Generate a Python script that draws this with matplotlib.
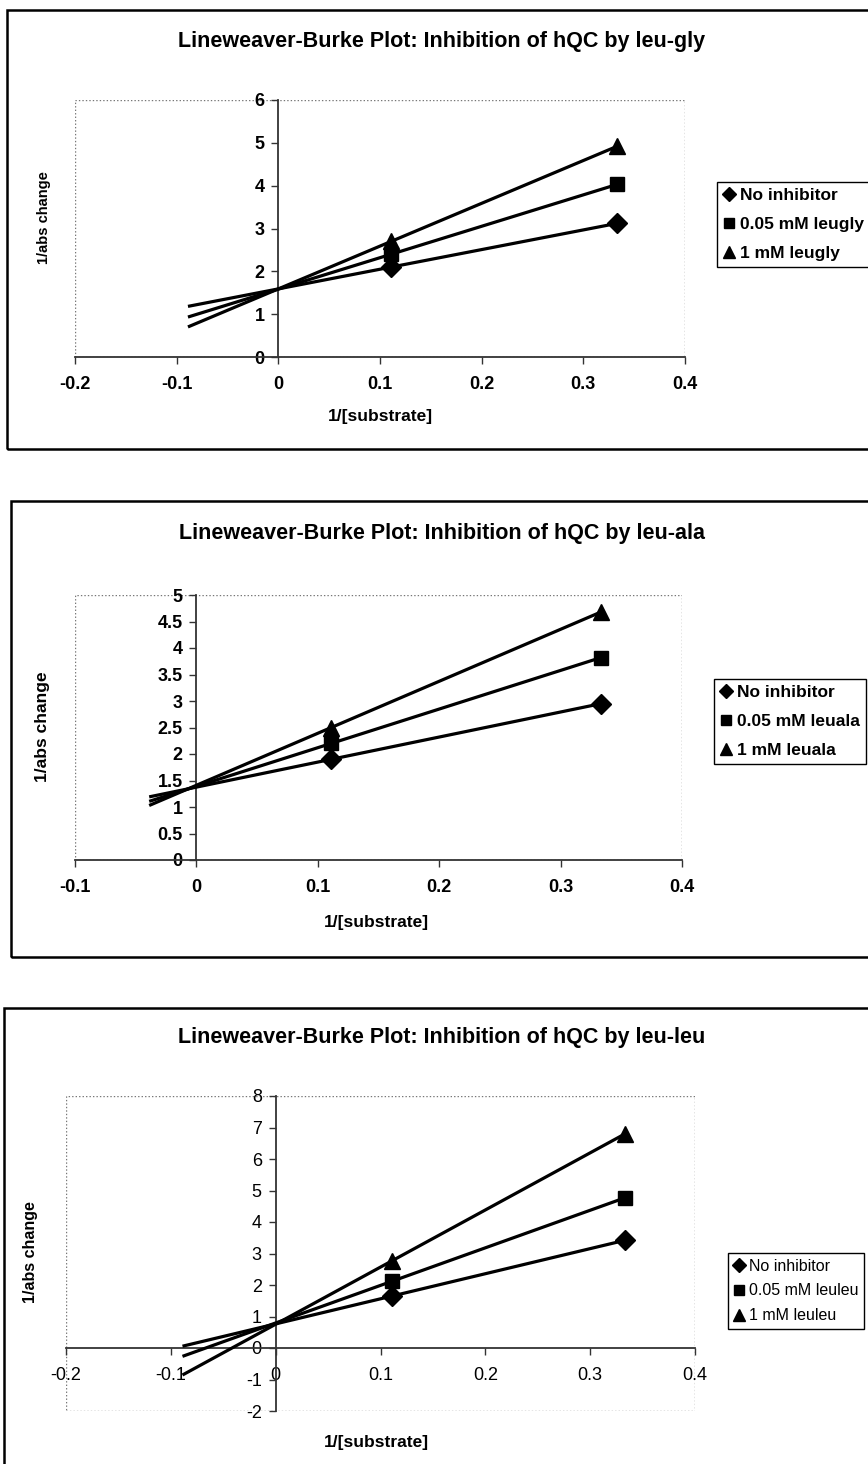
import numpy as np
import matplotlib
matplotlib.use("Agg")
import matplotlib.pyplot as plt
from matplotlib.patches import Rectangle
from matplotlib.ticker import FormatStrFormatter, MultipleLocator

plt.rcParams["font.family"] = ["Liberation Sans", "DejaVu Sans"]
plt.rcParams["axes.unicode_minus"] = False

# data (1/[substrate] for 9 mM and 3 mM substrate)
x_sub = [1 / 9, 1 / 3]

gly_none = [2.1, 3.12]
gly_low = [2.4, 4.03]
gly_high = [2.7, 4.92]
gly_labels = ["No inhibitor", "0.05 mM leugly", "1 mM leugly"]

ala_none = [1.9, 2.95]
ala_low = [2.2, 3.82]
ala_high = [2.5, 4.68]
ala_labels = ["No inhibitor", "0.05 mM leuala", "1 mM leuala"]

leu_none = [1.65, 3.42]
leu_low = [2.12, 4.77]
leu_high = [2.77, 6.8]
leu_labels = ["No inhibitor", "0.05 mM leuleu", "1 mM leuleu"]

titles = ["Lineweaver-Burke Plot: Inhibition of hQC by leu-gly",
          "Lineweaver-Burke Plot: Inhibition of hQC by leu-ala",
          "Lineweaver-Burke Plot: Inhibition of hQC by leu-leu"]

W, H = 868, 1464
fig = plt.figure(figsize=(W / 100, H / 100), dpi=100)
fig.patch.set_facecolor("white")


def fx(px):
    return px / W


def fy(py):
    return 1 - py / H


markers = [("D", 10), ("s", 10), ("^", 11)]

# one dict per panel: pixel layout of the plot area and a few settings
panels = [
    dict(series=[gly_none, gly_low, gly_high], labels=gly_labels, title=titles[0],
         box=(7, 10, 449), plot=(75, 685, 100, 357), xlim=(-0.2, 0.4), ylim=(0, 6),
         ystep=1, back=0.2, bold=True, title_y=41, xlab_y=417,
         ylab=(44, 218, 10.5), leg=(717, 182, 12.5, 0.78), xlab_x=380),
    dict(series=[ala_none, ala_low, ala_high], labels=ala_labels, title=titles[1],
         box=(11, 501, 957), plot=(75, 682, 595, 860), xlim=(-0.1, 0.4), ylim=(0, 5),
         ystep=0.5, back=0.15, bold=True, title_y=533, xlab_y=922,
         ylab=(42, 727, 12.5), leg=(714, 679, 12.5, 0.78), xlab_x=376),
    dict(series=[leu_none, leu_low, leu_high], labels=leu_labels, title=titles[2],
         box=(4, 1008, 1480), plot=(66, 695, 1096, 1411), xlim=(-0.2, 0.4), ylim=(-2, 8),
         ystep=1, back=0.2, bold=False, title_y=1038, xlab_y=1443,
         ylab=(30, 1252, 11.5), leg=(728, 1253, 11.5, 0.62), xlab_x=376),
]

for p in panels:
    # outer frame of the chart
    bx0, by0, by1 = p["box"]
    fig.add_artist(Rectangle((fx(bx0), fy(by1)), fx(900) - fx(bx0), fy(by0) - fy(by1),
                             transform=fig.transFigure, fill=False, ec="black", lw=1.8))

    l, r, t, b = p["plot"]
    ax = fig.add_axes([fx(l), fy(b), (r - l) / W, (b - t) / H])
    ax.set_xlim(*p["xlim"])
    ax.set_ylim(*p["ylim"])
    ax.patch.set_alpha(0)

    # plot area border (dotted grey)
    ax.add_patch(Rectangle((0, 0), 1, 1, transform=ax.transAxes, fill=False,
                           ec="#777777", lw=1.0, ls=(0, (1, 1.5)), zorder=0))

    for sp in ["top", "right"]:
        ax.spines[sp].set_visible(False)
    ax.spines["left"].set_position(("data", 0))
    ax.spines["bottom"].set_position(("data", 0))
    for sp in ["left", "bottom"]:
        ax.spines[sp].set_color("#333333")
        ax.spines[sp].set_linewidth(1.3)

    weight = "bold" if p["bold"] else "normal"
    ax.xaxis.set_major_locator(MultipleLocator(0.1))
    ax.yaxis.set_major_locator(MultipleLocator(p["ystep"]))
    ax.xaxis.set_major_formatter(FormatStrFormatter("%g"))
    ax.yaxis.set_major_formatter(FormatStrFormatter("%g"))
    ax.tick_params(axis="x", direction="out", length=5, width=1, pad=9,
                   labelsize=13, color="#333333")
    ax.tick_params(axis="y", direction="out", length=5, width=1, pad=5,
                   labelsize=13, color="#333333")
    for lab in ax.get_xticklabels() + ax.get_yticklabels():
        lab.set_fontweight(weight)

    handles = []
    for ys, (m, ms), lab in zip(p["series"], markers, p["labels"]):
        coef = np.polyfit(x_sub, ys, 1)
        xs = np.array([x_sub[0] - p["back"], x_sub[-1]])
        ax.plot(xs, np.polyval(coef, xs), color="black", lw=2.3, zorder=3,
                solid_capstyle="butt")
        h, = ax.plot(x_sub, ys, ls="none", marker=m, ms=ms, color="black",
                     zorder=4, label=lab)
        handles.append(h)

    fig.text(fx(442), fy(p["title_y"]), p["title"], ha="center", va="center",
             fontsize=15.5, fontweight="bold")
    fig.text(fx(p["xlab_x"]), fy(p["xlab_y"]), "1/[substrate]", ha="center",
             va="center", fontsize=12.5, fontweight="bold")
    yx, yy, ysz = p["ylab"]
    fig.text(fx(yx), fy(yy), "1/abs change", ha="center", va="center",
             rotation=90, fontsize=ysz, fontweight="bold")

    lx, ly, lsz, lsp = p["leg"]
    leg = fig.legend(handles, p["labels"], loc="upper left",
                     bbox_to_anchor=(fx(lx), fy(ly)), bbox_transform=fig.transFigure,
                     frameon=True, fancybox=False, edgecolor="black", framealpha=1,
                     handlelength=0.7, handletextpad=0.25, borderpad=0.35,
                     labelspacing=lsp, borderaxespad=0, markerscale=0.75,
                     prop=dict(size=lsz, weight=weight))
    leg.get_frame().set_linewidth(1.0)

fig.savefig("out.png", dpi=100, facecolor="white")
